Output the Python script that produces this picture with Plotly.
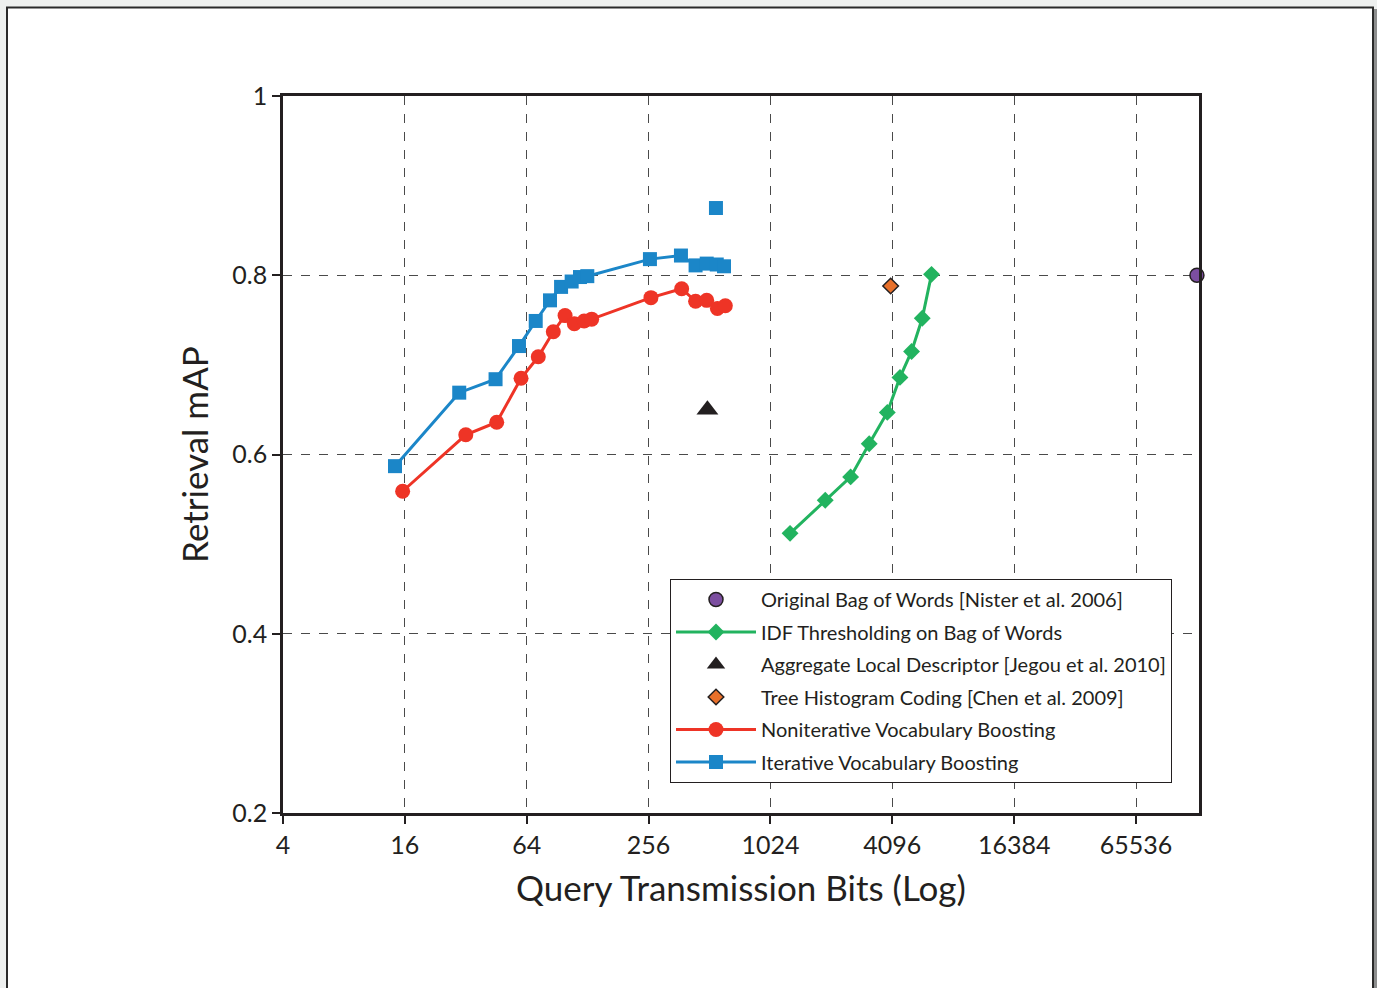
import plotly.graph_objects as go

# ---- data ----
bow_x = [131072]
bow_y = [0.800]

idf_x = [1280, 1910, 2550, 3150, 3870, 4470, 5100, 5760, 6400]
idf_y = [0.512, 0.549, 0.575, 0.612, 0.647, 0.686, 0.715, 0.752, 0.801]

ald_x = [500]
ald_y = [0.650]

thc_x = [4020]
thc_y = [0.788]

nvb_x = [15.6, 32, 45.5, 60, 73, 86.6, 99, 110, 123, 134, 263, 373, 437, 496, 560, 613]
nvb_y = [0.559, 0.622, 0.636, 0.685, 0.709, 0.737, 0.755, 0.746, 0.749, 0.751,
         0.775, 0.785, 0.771, 0.772, 0.763, 0.766]

ivb_x = [14.3, 29.7, 44.9, 58.6, 70.9, 83.4, 94.6, 106.7, 117.3, 127.5, 260, 370, 437, 496, 556, 604]
ivb_y = [0.587, 0.669, 0.684, 0.721, 0.749, 0.772, 0.787, 0.793, 0.798, 0.799,
         0.818, 0.822, 0.811, 0.813, 0.812, 0.810]

ivb_extra_x = [551]
ivb_extra_y = [0.875]

x_ticks = [4, 16, 64, 256, 1024, 4096, 16384, 65536]
x_ticklabels = ["4", "16", "64", "256", "1024", "4096", "16384", "65536"]
y_ticks = [0.2, 0.4, 0.6, 0.8, 1.0]
y_ticklabels = ["0.2", "0.4", "0.6", "0.8", "1"]

# ---- styles ----
DARK = "#231f20"
BLUE = "#1b86c8"
RED = "#ee3426"
GREEN = "#22b35f"
PURPLE = "#7c4ea0"
ORANGE = "#e8702a"
FONT = "Lato"

fig = go.Figure()

fig.add_trace(go.Scatter(
    x=bow_x, y=bow_y, mode="markers", name="Original Bag of Words [Nister et al. 2006]",
    legendgroup="a", cliponaxis=False,
    marker=dict(symbol="circle", size=14, color=PURPLE, line=dict(color=DARK, width=1.5))))
fig.add_trace(go.Scatter(
    x=idf_x, y=idf_y, mode="lines+markers", name="IDF Thresholding on Bag of Words",
    legendgroup="b",
    line=dict(color=GREEN, width=3),
    marker=dict(symbol="diamond", size=13, color=GREEN)))
fig.add_trace(go.Scatter(
    x=ald_x, y=ald_y, mode="markers", name="Aggregate Local Descriptor [Jegou et al. 2010]",
    legendgroup="c",
    marker=dict(symbol="triangle-up", size=19, color=DARK)))
fig.add_trace(go.Scatter(
    x=thc_x, y=thc_y, mode="markers", name="Tree Histogram Coding [Chen et al. 2009]",
    legendgroup="d",
    marker=dict(symbol="diamond", size=12, color=ORANGE, line=dict(color=DARK, width=1.5))))
fig.add_trace(go.Scatter(
    x=nvb_x, y=nvb_y, mode="lines+markers", name="Noniterative Vocabulary Boosting",
    legendgroup="e",
    line=dict(color=RED, width=3),
    marker=dict(symbol="circle", size=15, color=RED)))
fig.add_trace(go.Scatter(
    x=ivb_x, y=ivb_y, mode="lines+markers", name="Iterative Vocabulary Boosting",
    legendgroup="f",
    line=dict(color=BLUE, width=3),
    marker=dict(symbol="square", size=14, color=BLUE)))
fig.add_trace(go.Scatter(
    x=ivb_extra_x, y=ivb_extra_y, mode="markers", showlegend=False,
    legendgroup="f",
    marker=dict(symbol="square", size=14, color=BLUE)))

L, R, T, B = 283, 1199, 96, 813
W, H = 1377, 988
pw, ph = R - L, B - T

def px_x(p):
    return (p - L) / pw

def px_y(p):
    return (B - p) / ph

shapes = [
    # white page with dark border and slight shadow on the right
    dict(type="rect", xref="paper", yref="paper", layer="below",
         x0=px_x(1373), x1=px_x(1378), y0=px_y(1000), y1=px_y(9),
         fillcolor="#8d8e8e", line=dict(width=0)),
    dict(type="rect", xref="paper", yref="paper", layer="below",
         x0=px_x(7), x1=px_x(1373), y0=px_y(1000), y1=px_y(7.5),
         fillcolor="white", line=dict(color="#2a2a2a", width=2)),
]

axis_common = dict(
    showline=True, linecolor=DARK, linewidth=2.5, mirror=True,
    ticks="outside", ticklen=8, tickwidth=1.5, tickcolor=DARK,
    showgrid=True, gridcolor="#4a4a4a", gridwidth=1.3, griddash="dash",
    zeroline=False,
    tickfont=dict(family=FONT, size=25, color=DARK),
)

fig.update_layout(
    width=W, height=H,
    margin=dict(l=L, r=W - R, t=T, b=H - B),
    paper_bgcolor="#eef0ef",
    plot_bgcolor="#fee8c5",
    shapes=shapes,
    showlegend=True,
    legend=dict(
        x=px_x(670), y=px_y(579), xanchor="left", yanchor="top",
        bgcolor="white", bordercolor=DARK, borderwidth=1,
        font=dict(family=FONT, size=20, color=DARK),
        itemwidth=80, traceorder="grouped", tracegroupgap=3.5,
        itemsizing="trace",
    ),
    xaxis=dict(
        type="log", range=[0.60206, 5.1277],
        tickvals=x_ticks, ticktext=x_ticklabels,
        title=dict(text="Query Transmission Bits (Log)", standoff=19,
                   font=dict(family=FONT, size=35, color=DARK)),
        **axis_common),
    yaxis=dict(
        range=[0.2, 1.0],
        tickvals=y_ticks, ticktext=y_ticklabels,
        title=dict(text="Retrieval mAP", standoff=14,
                   font=dict(family=FONT, size=35, color=DARK)),
        **axis_common),
)

fig.write_html("out.html")
